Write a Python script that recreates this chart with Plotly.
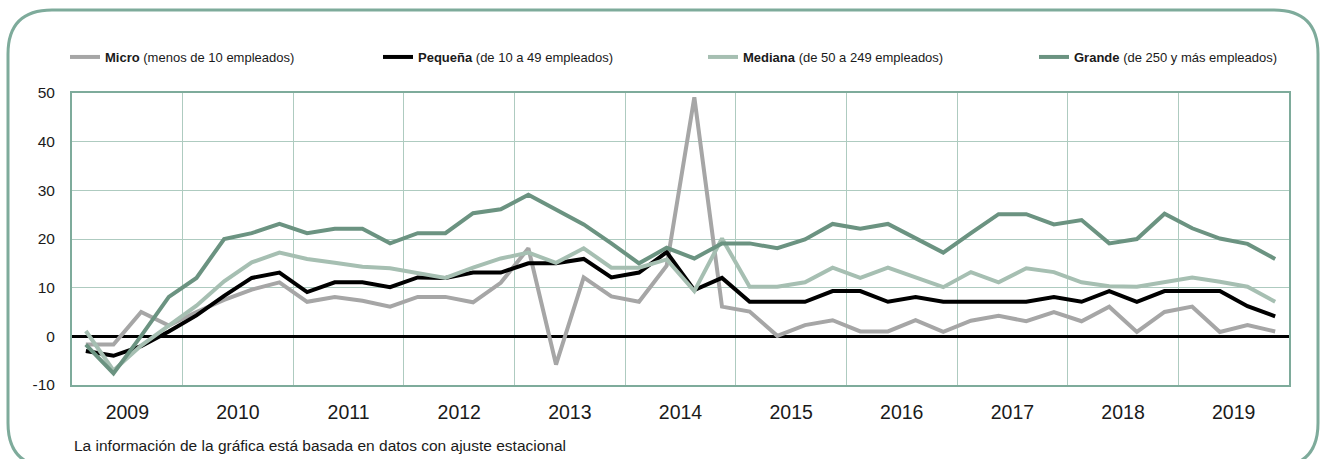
import plotly.graph_objects as go

# ---- data (quarterly, 2009 T1 .. 2019 T4) ----
years = [str(y) for y in range(2009, 2020)]
quarters_per_year = 4

micro = [-1.7, -1.7, 5.0, 2.2, 5.0, 7.5, 9.6, 11.1, 7.1, 8.1, 7.3, 6.1,
         8.1, 8.1, 7.0, 11.0, 18.1, -5.8, 12.1, 8.2, 7.1, 14.5, 49.1, 6.1,
         5.1, 0.1, 2.3, 3.3, 1.0, 1.0, 3.3, 0.9, 3.2, 4.2, 3.1, 5.0,
         3.1, 6.1, 0.9, 5.0, 6.1, 0.9, 2.3, 1.0]
pequena = [-3.0, -4.0, -2.0, 1.0, 4.3, 8.3, 12.0, 13.1, 9.1, 11.1, 11.1, 10.1,
           12.1, 12.0, 13.1, 13.1, 15.0, 15.0, 15.9, 12.1, 13.1, 17.3, 9.5, 12.0,
           7.1, 7.1, 7.1, 9.3, 9.3, 7.1, 8.1, 7.1, 7.1, 7.1, 7.1, 8.1,
           7.1, 9.3, 7.1, 9.3, 9.3, 9.3, 6.2, 4.1]
mediana = [1.1, -7.0, -1.9, 2.2, 6.3, 11.3, 15.2, 17.2, 15.9, 15.1, 14.3, 14.0,
           13.0, 12.0, 14.1, 16.0, 17.2, 15.1, 18.1, 14.1, 14.1, 15.8, 9.3, 20.1,
           10.2, 10.2, 11.1, 14.1, 12.0, 14.1, 12.1, 10.1, 13.2, 11.1, 14.0, 13.2,
           11.1, 10.3, 10.2, 11.2, 12.1, 11.2, 10.2, 7.1]
grande = [-1.7, -7.6, 0.1, 8.1, 12.0, 20.0, 21.2, 23.1, 21.2, 22.1, 22.1, 19.1,
          21.2, 21.2, 25.3, 26.1, 29.1, 26.1, 23.0, 19.1, 15.0, 18.2, 16.0, 19.1,
          19.1, 18.1, 19.9, 23.1, 22.1, 23.1, 20.2, 17.2, 21.2, 25.1, 25.1, 23.0,
          23.9, 19.1, 20.0, 25.2, 22.2, 20.1, 19.0, 15.9]

series_names = [
    "<b>Micro</b> (menos de 10 empleados)",
    "<b>Pequeña</b> (de 10 a 49 empleados)",
    "<b>Mediana</b> (de 50 a 249 empleados)",
    "<b>Grande</b> (de 250 y más empleados)",
]
series_values = [micro, pequena, mediana, grande]
series_colors = ["#a6a6a6", "#000000", "#a6bfb2", "#6b9381"]
legend_widths = [268, 280, 286, 220]

y_ticks = [-10, 0, 10, 20, 30, 40, 50]
footer = "La información de la gráfica está basada en datos con ajuste estacional"

# ---- figure geometry ----
W, H = 1323, 459
ML, MR, MT, MB = 72, 34, 93, 74
PW, PH = W - ML - MR, H - MT - MB

def px(xpix):
    return (xpix - ML) / PW

def py(ypix):
    return (H - MB - ypix) / PH

n = len(micro)
x = list(range(n))

fig = go.Figure()
for name, vals, col, lw in zip(series_names, series_values, series_colors, legend_widths):
    fig.add_trace(go.Scatter(
        x=x, y=vals, name=name, mode="lines",
        line=dict(color=col, width=4),
        legendwidth=lw,
    ))

grid_col = "#aecbc0"
frame_col = "#7eab9b"
font_family = "Liberation Sans, Arial, Helvetica, sans-serif"

n_years = len(years)
fig.update_xaxes(
    range=[-0.5, n - 0.5],
    tickmode="array",
    tickvals=[quarters_per_year * k + 1.5 for k in range(n_years)],
    ticktext=years,
    ticks="",
    showgrid=False,
    zeroline=False,
    showline=True, mirror=True, linecolor=frame_col, linewidth=2,
    tickfont=dict(size=19.5, color="#1a1a1a", family=font_family),
    ticklabelstandoff=9,
    minor=dict(
        tickmode="array",
        tickvals=[quarters_per_year * k - 0.5 for k in range(1, n_years)],
        showgrid=True, gridcolor=grid_col, gridwidth=1, ticks="",
    ),
)
fig.update_yaxes(
    range=[-10, 50],
    tickmode="array", tickvals=y_ticks, ticktext=[str(v) for v in y_ticks],
    ticks="",
    showgrid=True, gridcolor=grid_col, gridwidth=1,
    zeroline=True, zerolinecolor="#000000", zerolinewidth=3,
    showline=True, mirror=True, linecolor=frame_col, linewidth=2,
    tickfont=dict(size=15.5, color="#1a1a1a", family=font_family),
    ticklabelstandoff=12,
)

# rounded outer frame
L, R, T, B, r = 8, 1318, 10, 467, 44
path = (
    f"M {px(L)},{py(T + r)} Q {px(L)},{py(T)} {px(L + r)},{py(T)} "
    f"L {px(R - r)},{py(T)} Q {px(R)},{py(T)} {px(R)},{py(T + r)} "
    f"L {px(R)},{py(B - r)} Q {px(R)},{py(B)} {px(R - r)},{py(B)} "
    f"L {px(L + r)},{py(B)} Q {px(L)},{py(B)} {px(L)},{py(B - r)} Z"
)
fig.add_shape(type="path", path=path, xref="paper", yref="paper",
              line=dict(color=frame_col, width=3), layer="below")

fig.add_annotation(
    text=footer, xref="paper", yref="paper",
    x=px(72), y=py(445), xanchor="left", yanchor="middle",
    showarrow=False, font=dict(size=15.5, color="#1a1a1a", family=font_family),
)

fig.update_layout(
    width=W, height=H,
    margin=dict(l=ML, r=MR, t=MT, b=MB),
    paper_bgcolor="white", plot_bgcolor="white",
    font=dict(family=font_family, color="#1a1a1a"),
    showlegend=True,
    legend=dict(
        orientation="h", x=px(65), xanchor="left", y=py(57), yanchor="middle",
        entrywidthmode="pixels", itemwidth=30,
        font=dict(size=13, color="#1a1a1a", family=font_family),
        bgcolor="rgba(0,0,0,0)", traceorder="normal",
    ),
)

fig.write_html(
    "out.html",
    config={"displayModeBar": False},
    post_script="document.body.style.margin='0px';",
)
